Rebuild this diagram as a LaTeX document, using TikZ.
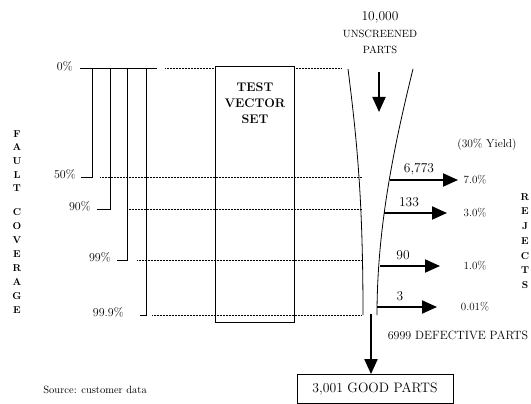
\documentclass[tikz,border=0pt]{standalone}
\usepackage{tikz}
\usetikzlibrary{arrows.meta, positioning, calc}

\begin{document}
\begin{tikzpicture}[x=1pt, y=-1pt, line width=0.8pt,
    pct/.style={font=\fontsize{12}{13}\selectfont, inner sep=1pt},
    caps/.style={font=\fontsize{10.5}{16.5}\selectfont, align=center, inner sep=0pt},
    vlab/.style={font=\fontsize{10}{13.7}\selectfont\bfseries, align=center, inner sep=0pt},
    bigarrow/.style={line width=2pt, -{Triangle[length=15pt, width=13pt]}},
    guide/.style={densely dotted, line width=0.5pt}]
  \useasboundingbox (0,0) rectangle (531,404);

  % fault coverage scale
  \node[vlab] (fault) at (17,161) {F\\A\\U\\L\\T};
  \node[vlab, font=\fontsize{10}{14}\selectfont\bfseries] (cover) at (17,261) {C\\O\\V\\E\\R\\A\\G\\E};
  \node[pct, anchor=east] (p0) at (74,66) {0\%};
  \draw (80,68) -- (157,68);
  \draw[guide] (165,68) -- (215,68);
  \draw[guide] (294,68) -- (342,68);
  \foreach \name/\lab/\lx/\fx/\bx/\by/\dx in {p50/50\%/77/81/92/177/100, p90/90\%/92/97/110/209/127, p99/99\%/112/117/127/260/137, p999/99.9\%/125/140/146/315/152} {
    \node[pct, anchor=east] (\name) at (\lx,\by-3) {\lab};
    \draw (\fx,\by) -- (\bx,\by) -- (\bx,68);
    \draw[guide] (\dx,\by) -- (362,\by);
  }

  % test vector set
  \draw (215,66) rectangle (294,322);
  \node[caps, font=\fontsize{12.5}{16}\selectfont\bfseries] (tvs) at (255,103) {TEST\\VECTOR\\SET};

  % funnel
  \draw (348,69) .. controls (357,140) and (363,200) .. (363,315);
  \draw (413,69) .. controls (393,150) and (377,230) .. (377,315);
  \node[caps] (unscr) at (380,33) {{\fontsize{13.5}{16.5}\selectfont 10,000}\\UNSCREENED\\PARTS};
  \draw[bigarrow] (379,72) -- (379,112);

  % rejects
  \node[pct, font=\fontsize{11.5}{12}\selectfont] (yield) at (487,145) {(30\% Yield)};
  \foreach \i/\sx/\ex/\ry/\num/\nx/\rate in {1/390/458/180/{6,773}/419/7.0\%, 2/384/447/213/133/409/3.0\%, 3/380/440/266/90/403/1.0\%, 4/377/437/307/3/400/0.01\%} {
    \coordinate (s\i) at (\sx,\ry);
    \coordinate (e\i) at (\ex,\ry);
    \draw[bigarrow] (s\i) -- (e\i);
    \node[caps, font=\fontsize{13.5}{14}\selectfont] (n\i) at (\nx,\ry-11) {\num};
    \node[pct, font=\fontsize{11}{12}\selectfont] (r\i) at (475,\ry) {\rate};
  }
  \node[vlab, font=\fontsize{10}{14.7}\selectfont\bfseries] (rej) at (525,241) {R\\E\\J\\E\\C\\T\\S};
  \node[pct, font=\fontsize{12}{13}\selectfont] (defect) at (458,335) {6999 DEFECTIVE PARTS};

  % good parts
  \coordinate (gtop) at (371,314);
  \node[draw, minimum width=156pt, minimum height=29pt, font=\fontsize{13.7}{15}\selectfont] (good) at (375,389) {3,001 GOOD PARTS};
  \draw[bigarrow] (gtop) -- (good.north -| gtop);
  \node[pct, anchor=west, font=\fontsize{10.5}{12}\selectfont] (src) at (42,390) {Source: customer data};
\end{tikzpicture}
\end{document}
